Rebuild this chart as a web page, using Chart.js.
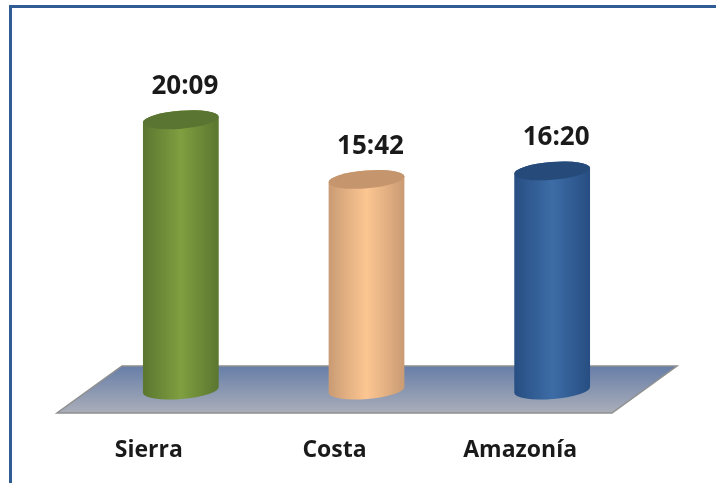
<!DOCTYPE html>
<html>
<head>
<meta charset="utf-8">
<script src="https://cdn.jsdelivr.net/npm/chart.js@4"></script>
<style>
html, body { margin: 0; padding: 0; background: #fff; overflow: hidden; }
#frame { position: absolute; left: 9px; top: 5px; width: 707px; height: 478px; border-top: 3px solid #2f5c94; border-left: 3px solid #2f5c94; box-sizing: border-box; }
#wrap { position: absolute; left: 0; top: 0; width: 716px; height: 483px; filter: blur(0.5px); }
</style>
</head>
<body>
<div id="frame"></div>
<div id="wrap"><canvas id="chart" width="716" height="483"></canvas></div>
<script>
const categories = ['Sierra', 'Costa', 'Amazonía'];
// tiempo en minutos:segundos, pasado a minutos enteros para la escala
const tiempos = [1209, 942, 980];
const tiempoLabels = ['20:09', '15:42', '16:20'];

const sideEdge = ['#5a7630', '#c99b74', '#274e82'];
const sideMid = ['#7f9f40', '#fdc691', '#3d6ca6'];
const topColor = ['#5a7431', '#c5956d', '#264b7b'];

const tilt = -0.08;
const ry = 9;

function cylinder(ctx, bar, i) {
    const a = bar.width / 2;
    const grad = ctx.createLinearGradient(bar.x - a, 0, bar.x + a, 0);
    grad.addColorStop(0, sideEdge[i]);
    grad.addColorStop(0.5, sideMid[i]);
    grad.addColorStop(1, sideEdge[i]);

    ctx.beginPath();
    ctx.ellipse(bar.x, bar.y, a, ry, tilt, Math.PI, 0, false);
    ctx.ellipse(bar.x, bar.base, a, ry, tilt, 0, Math.PI, false);
    ctx.closePath();
    ctx.fillStyle = grad;
    ctx.fill();

    ctx.beginPath();
    ctx.ellipse(bar.x, bar.y, a, ry, tilt, 0, Math.PI * 2);
    ctx.fillStyle = topColor[i];
    ctx.fill();
}

const floorPlugin = {
    id: 'floor',
    beforeDatasetsDraw(chart) {
        const { ctx, chartArea: area } = chart;
        const grad = ctx.createLinearGradient(0, area.bottom - 24, 0, area.bottom + 23);
        grad.addColorStop(0, '#677ea8');
        grad.addColorStop(1, '#aaaeb9');
        ctx.save();
        ctx.beginPath();
        ctx.moveTo(area.left + 34, area.bottom - 24);
        ctx.lineTo(area.right + 32, area.bottom - 24);
        ctx.lineTo(area.right - 33, area.bottom + 23);
        ctx.lineTo(area.left - 31, area.bottom + 23);
        ctx.closePath();
        ctx.fillStyle = grad;
        ctx.fill();
        ctx.strokeStyle = '#8f8f8f';
        ctx.lineWidth = 1.5;
        ctx.stroke();
        ctx.restore();
    }
};

const cylinderPlugin = {
    id: 'cylinders',
    afterDatasetsDraw(chart) {
        const { ctx } = chart;
        const bars = chart.getDatasetMeta(0).data;
        ctx.save();
        bars.forEach((bar, i) => {
            cylinder(ctx, bar, i);
            ctx.font = 'bold 26px "Open Sans"';
            ctx.fillStyle = '#1a1a1a';
            ctx.textAlign = 'center';
            ctx.textBaseline = 'middle';
            ctx.fillText(tiempoLabels[i], bar.x + 4, bar.y - 33);
        });
        ctx.restore();
    }
};

new Chart(document.getElementById('chart'), {
    type: 'bar',
    data: {
        labels: categories,
        datasets: [{
            data: tiempos,
            backgroundColor: 'transparent',
            barThickness: 76
        }]
    },
    options: {
        responsive: false,
        animation: false,
        layout: { padding: { left: 88, right: 71, top: 77, bottom: 0 } },
        plugins: { legend: { display: false }, tooltip: { enabled: false } },
        scales: {
            x: {
                grid: { display: false },
                border: { display: false },
                afterFit(scale) { scale.height = 93; },
                ticks: {
                    labelOffset: -32,
                    padding: 39,
                    color: '#1a1a1a',
                    font: { family: 'Open Sans', weight: 'bold', size: 23 }
                }
            },
            y: {
                display: false,
                min: 0,
                max: 1400
            }
        }
    },
    plugins: [floorPlugin, cylinderPlugin]
});
</script>
</body>
</html>
